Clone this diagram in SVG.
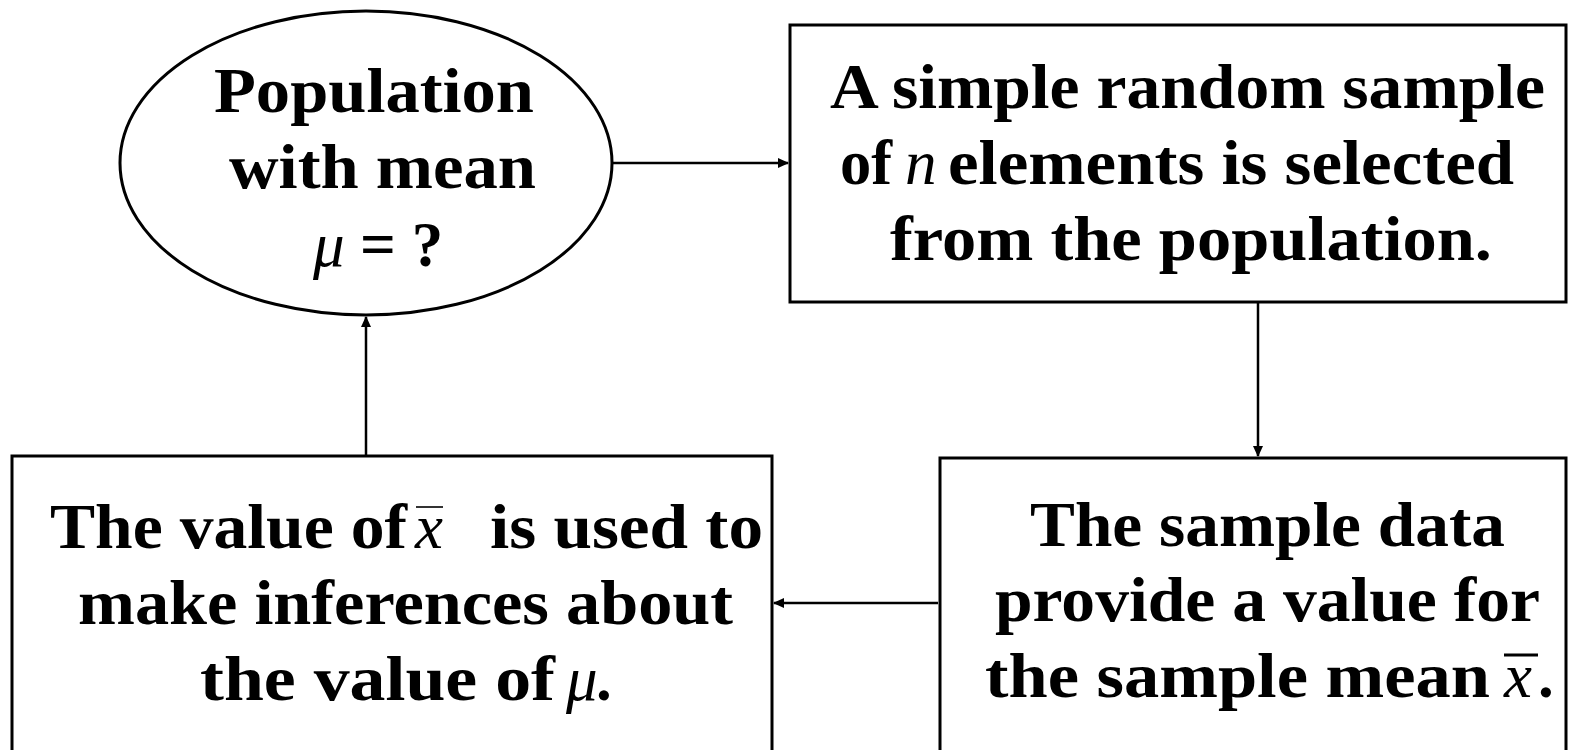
<svg xmlns="http://www.w3.org/2000/svg" width="1574" height="750" viewBox="0 0 1574 750">
<style>
.shape{fill:#fff;stroke:#000;stroke-width:3}
.t{font-family:"Liberation Serif","Times New Roman",serif;font-weight:bold;font-size:63px;fill:#000}
.m{font-family:"Liberation Serif","Times New Roman",serif;font-style:italic;font-weight:normal;font-size:63px;fill:#000}
.conn{stroke:#000;stroke-width:2.5;fill:none}
</style>
<defs>
<marker id="ah" markerWidth="11" markerHeight="10" refX="10" refY="5" orient="auto" markerUnits="userSpaceOnUse" viewBox="0 0 11 10">
<path d="M0,0 L11,5 L0,10 z" fill="#000"/>
</marker>
</defs>
<g id="population">
<ellipse class="shape" cx="366" cy="163" rx="246" ry="152"/>
<text class="t" x="214" y="112" textLength="320" lengthAdjust="spacingAndGlyphs">Population</text>
<text class="t" x="229" y="188" textLength="307" lengthAdjust="spacingAndGlyphs">with mean</text>
<text class="m" x="313" y="266">μ</text>
<text class="t" x="360" y="266">= ?</text>
</g>
<g id="sample">
<rect class="shape" x="790" y="25" width="776" height="277"/>
<text class="t" x="830" y="108" textLength="715" lengthAdjust="spacingAndGlyphs">A simple random sample</text>
<text class="t" x="840" y="184" textLength="52" lengthAdjust="spacingAndGlyphs">of</text>
<text class="m" x="905" y="184">n</text>
<text class="t" x="948" y="184" textLength="566" lengthAdjust="spacingAndGlyphs">elements is selected</text>
<text class="t" x="890" y="260" textLength="602" lengthAdjust="spacingAndGlyphs">from the population.</text>
</g>
<g id="data">
<rect class="shape" x="940" y="458" width="626" height="300"/>
<text class="t" x="1030" y="546" textLength="475" lengthAdjust="spacingAndGlyphs">The sample data</text>
<text class="t" x="995" y="621" textLength="545" lengthAdjust="spacingAndGlyphs">provide a value for</text>
<text class="t" x="985" y="697" textLength="505" lengthAdjust="spacingAndGlyphs">the sample mean</text>
<text class="m" x="1504" y="697">x</text>
<line x1="1504" y1="655" x2="1538" y2="655" stroke="#000" stroke-width="3"/>
<text class="t" x="1538" y="697">.</text>
</g>
<g id="inference">
<rect class="shape" x="12" y="456" width="760" height="300"/>
<text class="t" x="50" y="548" textLength="357" lengthAdjust="spacingAndGlyphs">The value of</text>
<text class="m" x="415" y="548" font-size="52" fill="#333">x</text>
<line x1="416" y1="507" x2="443" y2="507" stroke="#333" stroke-width="2"/>
<text class="t" x="490" y="548" textLength="273" lengthAdjust="spacingAndGlyphs">is used to</text>
<text class="t" x="78" y="624" textLength="655" lengthAdjust="spacingAndGlyphs">make inferences about</text>
<text class="t" x="200" y="700" textLength="355" lengthAdjust="spacingAndGlyphs">the value of</text>
<text class="m" x="566" y="700">μ</text>
<text class="t" x="596" y="700">.</text>
</g>
<g id="connectors">
<line class="conn" x1="612" y1="163" x2="788" y2="163" marker-end="url(#ah)"/>
<line class="conn" x1="1258" y1="302" x2="1258" y2="456" marker-end="url(#ah)"/>
<line class="conn" x1="938" y1="603" x2="774" y2="603" marker-end="url(#ah)"/>
<line class="conn" x1="366" y1="456" x2="366" y2="317" marker-end="url(#ah)"/>
</g>
</svg>
